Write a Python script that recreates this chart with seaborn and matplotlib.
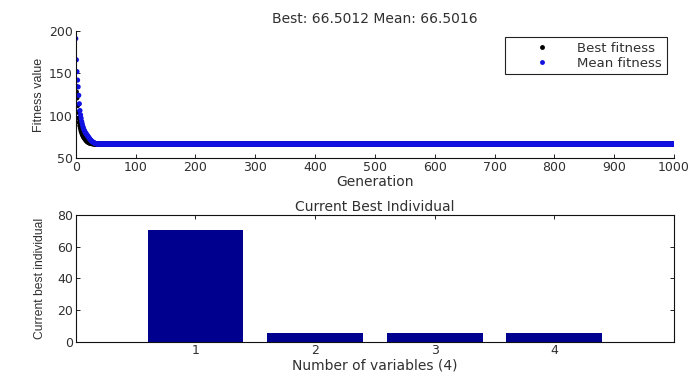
import matplotlib
matplotlib.use("Agg")
import matplotlib.pyplot as plt
from matplotlib.lines import Line2D
import numpy as np
import pandas as pd
import seaborn as sns

sns.set_theme(style="white")
plt.rcParams["font.family"] = ["DejaVu Sans"]

# ---- GA progress: fitness per generation ----
n_generations = 1000
best_head = [135, 128, 121, 112, 104, 97, 92, 88, 85, 82, 80, 78, 76.5, 75,
             74, 73, 72, 71, 70.2, 69.6, 69.0, 68.5, 68.1, 67.8, 67.5, 67.3,
             67.1, 67.0, 66.9, 66.8, 66.7, 66.6, 66.55]
mean_head = [191, 166, 152, 142, 134, 124, 114, 106, 101, 97, 93, 90, 87, 85,
             83, 81.5, 80, 79, 78, 77, 76, 75, 74, 73, 72, 71.2, 70.5, 69.8,
             69.2, 68.7, 68.2, 67.8, 67.4, 67.1, 66.9, 66.7, 66.6]
best_final = 66.5012
mean_final = 66.5016

best_fitness = best_head + [best_final] * (n_generations + 1 - len(best_head))
mean_fitness = mean_head + [mean_final] * (n_generations + 1 - len(mean_head))
generation = np.arange(n_generations + 1)

# ---- current best individual ----
variables = [1, 2, 3, 4]
individual = [70.5, 5.7, 5.7, 5.7]

fitness_df = pd.concat([
    pd.DataFrame({"Generation": generation, "Fitness": best_fitness,
                  "Series": "Best fitness"}),
    pd.DataFrame({"Generation": generation, "Fitness": mean_fitness,
                  "Series": "Mean fitness"}),
])
bar_df = pd.DataFrame({"Variable": variables, "Value": individual})

BEST_COLOR = "#000000"
MEAN_COLOR = "#1010e0"
BAR_COLOR = "#00008f"
TEXT_COLOR = "#303030"

fig = plt.figure(figsize=(6.91, 3.76), dpi=100)
ax1 = fig.add_axes([0.1096, 0.5798, 0.8658, 0.3378])
ax2 = fig.add_axes([0.1096, 0.0912, 0.8658, 0.3370])

# top panel: fitness history
sns.scatterplot(data=fitness_df, x="Generation", y="Fitness", hue="Series",
                palette={"Best fitness": BEST_COLOR, "Mean fitness": MEAN_COLOR},
                marker="o", s=14, linewidth=0, legend=False, ax=ax1)
ax1.set_xlim(0, 1000)
ax1.set_ylim(50, 200)
ax1.set_xticks(np.arange(0, 1001, 100))
ax1.set_yticks([50, 100, 150, 200])
ax1.set_xlabel("Generation", fontsize=10, color=TEXT_COLOR, labelpad=1)
ax1.set_ylabel("Fitness value", fontsize=9, color=TEXT_COLOR,
               family="Liberation Sans", labelpad=3)
ax1.set_title(f"Best: {best_fitness[-1]:.4f} Mean: {mean_fitness[-1]:.4f}",
              fontsize=10, color=TEXT_COLOR, pad=6)
for side in ("top", "right"):
    ax1.spines[side].set_visible(False)
handles = [
    Line2D([], [], linestyle="none", marker="o", markersize=3.5,
           markerfacecolor=BEST_COLOR, markeredgewidth=0, label="Best fitness"),
    Line2D([], [], linestyle="none", marker="o", markersize=3.5,
           markerfacecolor=MEAN_COLOR, markeredgewidth=0, label="Mean fitness"),
]
leg = ax1.legend(handles=handles, loc="upper right",
                 bbox_to_anchor=(0.988, 0.953), borderaxespad=0,
                 fontsize=9.5, handlelength=5, handletextpad=0.15,
                 labelspacing=0.15, borderpad=0.35, fancybox=False,
                 framealpha=1)
leg.get_frame().set_edgecolor("#222222")
leg.get_frame().set_linewidth(0.8)
for t in leg.get_texts():
    t.set_color(TEXT_COLOR)

# bottom panel: current best individual
sns.barplot(data=bar_df, x="Variable", y="Value", native_scale=True,
            color=BAR_COLOR, saturation=1, width=0.8, linewidth=0, ax=ax2)
ax2.set_xlim(0, 5)
ax2.set_ylim(0, 80)
ax2.set_xticks(variables)
ax2.set_yticks([0, 20, 40, 60, 80])
ax2.set_xlabel("Number of variables (4)", fontsize=10, color=TEXT_COLOR,
               labelpad=1)
ax2.set_ylabel("Current best individual", fontsize=8.7, color=TEXT_COLOR,
               family="Liberation Sans", labelpad=8)
ax2.set_title("Current Best Individual", fontsize=10, color=TEXT_COLOR, pad=3)
ax2.tick_params(top=True, right=True)

for ax in (ax1, ax2):
    ax.tick_params(direction="in", length=3, width=0.7, colors="#222222",
                   labelsize=9, labelcolor=TEXT_COLOR, pad=2)
    ax.tick_params(left=True, bottom=True)
    for sp in ax.spines.values():
        sp.set_color("#111111")
        sp.set_linewidth(0.8)
    ax.set_facecolor("white")

fig.savefig("out.png", dpi=100, facecolor="white")
